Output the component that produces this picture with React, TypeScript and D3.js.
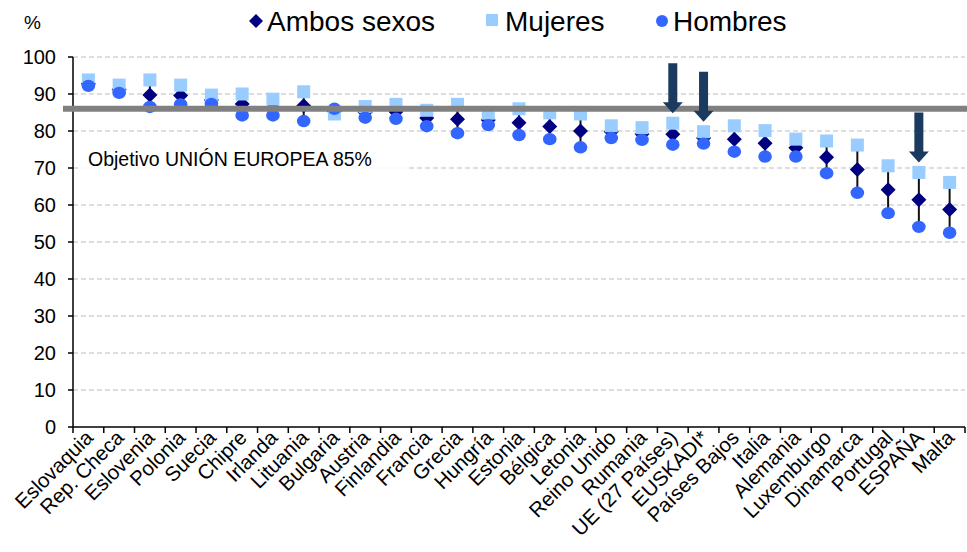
import React from "react";
import * as d3 from "d3";

const categories = [
  "Eslovaquia", "Rep. Checa", "Eslovenia", "Polonia", "Suecia", "Chipre", "Irlanda",
  "Lituania", "Bulgaria", "Austria", "Finlandia", "Francia", "Grecia", "Hungría",
  "Estonia", "Bélgica", "Letonia", "Reino  Unido", "Rumania", "UE (27 Países)",
  "EUSKADI*", "Países Bajos", "Italia", "Alemania", "Luxemburgo", "Dinamarca",
  "Portugal", "ESPAÑA", "Malta",
];
const ambos = [92.8, 91.2, 89.7, 89.6, 88.4, 87.3, 86.2, 86.8, 85.3, 85.1, 85.2, 83.5, 83.2, 83.0, 82.2, 81.2, 80.0, 79.8, 79.2, 79.1, 78.1, 77.8, 76.7, 75.5, 72.9, 69.6, 64.1, 61.4, 58.8];
const mujeres = [93.8, 92.4, 93.8, 92.4, 89.7, 90.0, 88.6, 90.6, 84.6, 86.6, 87.2, 85.6, 87.2, 84.8, 86.0, 84.9, 84.6, 81.4, 80.9, 82.1, 79.8, 81.4, 80.1, 77.8, 77.3, 76.2, 70.6, 68.8, 66.1];
const hombres = [92.2, 90.3, 86.5, 87.2, 87.3, 84.2, 84.2, 82.7, 86.0, 83.6, 83.3, 81.3, 79.4, 81.6, 78.9, 77.8, 75.6, 78.1, 77.6, 76.3, 76.6, 74.4, 73.1, 73.1, 68.6, 63.3, 57.8, 54.1, 52.5];
const yTicks = [0, 10, 20, 30, 40, 50, 60, 70, 80, 90, 100];
const targetValue = 86;
const targetLabel = "Objetivo UNIÓN EUROPEA 85%";
const arrowCategories = ["UE (27 Países)", "EUSKADI*", "ESPAÑA"];
const legendItems = ["Ambos sexos", "Mujeres", "Hombres"];

const FONT = "'Liberation Sans', Arial, sans-serif";
const C_AMBOS = "#000080";
const C_MUJ = "#99ccff";
const C_HOM = "#3366ff";
const C_ARROW = "#1a3a5f";

export default function App() {
  const W = 967, H = 552;
  const left = 73, right = 965, top = 57, bottom = 427;
  const x = d3.scaleBand<string>().domain(categories).range([left, right]).padding(0);
  const y = d3.scaleLinear().domain([0, 100]).range([bottom, top]);
  const bw = x.bandwidth();
  const cx = (c: string) => (x(c) as number) + bw / 2;
  const diamond = (px: number, py: number, r: number) =>
    `M${px},${py - r}L${px + r},${py}L${px},${py + r}L${px - r},${py}Z`;

  const boundaries = d3.range(categories.length + 1).map((i) => left + i * bw);

  return (
    <svg width={W} height={H} style={{ position: "absolute", left: 0, top: 0, background: "#fff" }} fontFamily={FONT}>
      {/* gridlines */}
      {yTicks.filter((t) => t > 0).map((t) => (
        <line key={t} x1={left} x2={right} y1={y(t)} y2={y(t)} stroke="#bdbdbd" strokeWidth={1.2} strokeDasharray="5,3" />
      ))}
      {/* target label box */}
      <rect x={80} y={145} width={328} height={24} fill="#fff" opacity={0.85} />
      <text x={88} y={166} fontSize={19.5} fill="#000">{targetLabel}</text>

      {/* axes */}
      <line x1={left} x2={left} y1={top} y2={bottom} stroke="#000" strokeWidth={1.5} />
      <line x1={left} x2={right} y1={bottom} y2={bottom} stroke="#000" strokeWidth={1.5} />
      {yTicks.map((t) => (
        <g key={t}>
          <line x1={left - 5} x2={left} y1={y(t)} y2={y(t)} stroke="#000" strokeWidth={1.5} />
          <text x={56} y={y(t)} dy="0.36em" textAnchor="end" fontSize={20}>{t}</text>
        </g>
      ))}
      {boundaries.map((b, i) => (
        <line key={i} x1={b} x2={b} y1={bottom} y2={bottom + 6} stroke="#000" strokeWidth={1.5} />
      ))}
      {categories.map((c) => (
        <text key={c} transform={`translate(${cx(c) + 6},${bottom + 12}) rotate(-45)`} textAnchor="end" fontSize={20.5}>{c}</text>
      ))}
      <text x={24} y={29} fontSize={19}>%</text>

      {/* high-low lines */}
      {categories.map((c, i) => (
        <line key={c} x1={cx(c)} x2={cx(c)} y1={y(mujeres[i])} y2={y(hombres[i])} stroke="#111" strokeWidth={2} />
      ))}
      {/* series */}
      {categories.map((c, i) => (
        <path key={c} d={diamond(cx(c), y(ambos[i]), 7.5)} fill={C_AMBOS} />
      ))}
      {categories.map((c, i) => (
        <rect key={c} x={cx(c) - 6.5} y={y(mujeres[i]) - 6.5} width={13} height={13} fill={C_MUJ} />
      ))}
      {categories.map((c, i) => (
        <ellipse key={c} cx={cx(c)} cy={y(hombres[i])} rx={6.8} ry={6.2} fill={C_HOM} />
      ))}

      {/* target line */}
      <line x1={63} x2={W} y1={y(targetValue)} y2={y(targetValue)} stroke="#808080" strokeWidth={6} />

      {/* arrows */}
      {arrowCategories.map((c) => {
        const i = categories.indexOf(c);
        const tip = y(mujeres[i]) - 10;
        const px = cx(c);
        const len = 50, head = 11, sw = 4.5, hw = 10;
        return (
          <path key={c} fill={C_ARROW}
            d={`M${px - sw},${tip - len}L${px + sw},${tip - len}L${px + sw},${tip - head}L${px + hw},${tip - head}L${px},${tip}L${px - hw},${tip - head}L${px - sw},${tip - head}Z`} />
        );
      })}

      {/* legend */}
      <g fontSize={28}>
        <path d={diamond(256, 21, 7)} fill={C_AMBOS} />
        <text x={267} y={31}>{legendItems[0]}</text>
        <rect x={486} y={14} width={12} height={12} fill={C_MUJ} />
        <text x={505} y={31}>{legendItems[1]}</text>
        <ellipse cx={662} cy={21} rx={6} ry={6} fill={C_HOM} />
        <text x={673} y={31}>{legendItems[2]}</text>
      </g>
    </svg>
  );
}
